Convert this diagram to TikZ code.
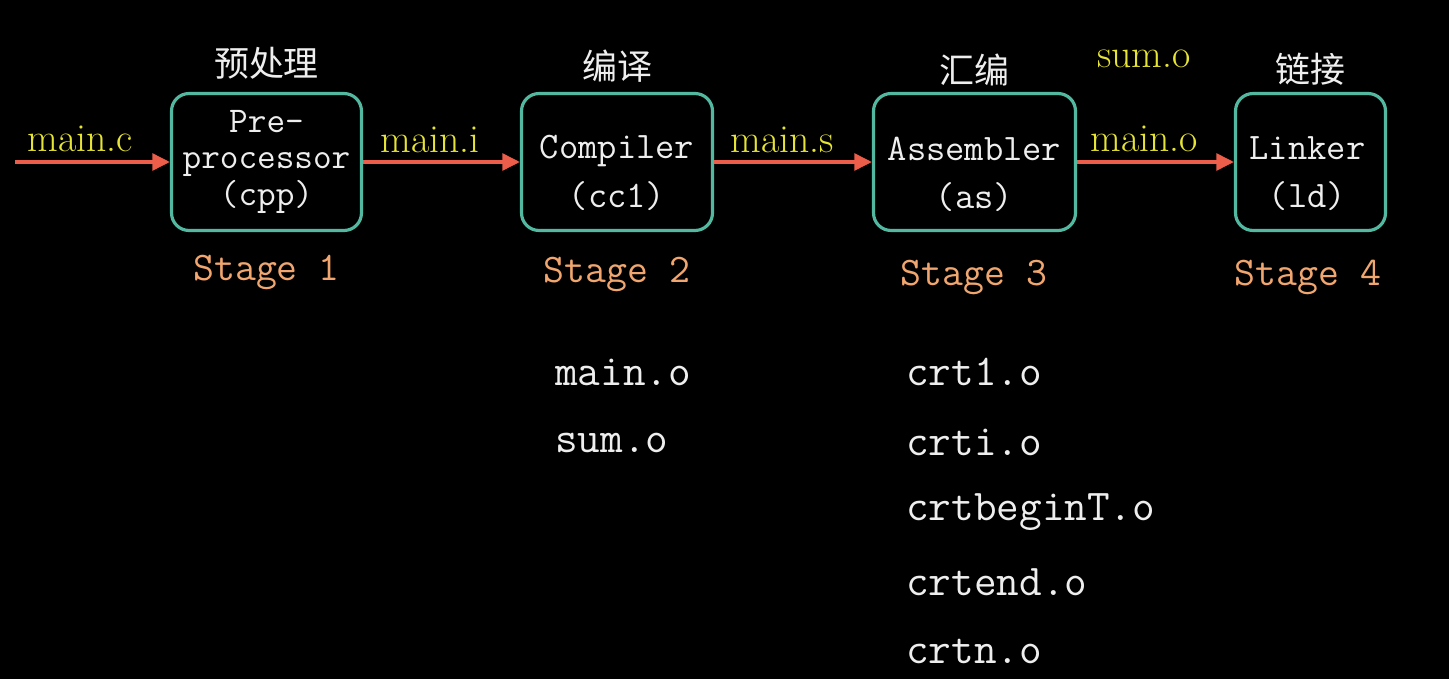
\documentclass[tikz,border=0pt]{standalone}
\usepackage{fontspec}
\newfontfamily\cjk{Noto Sans CJK SC}
\usetikzlibrary{arrows.meta}
\definecolor{boxteal}{RGB}{82,184,160}
\definecolor{flowred}{RGB}{236,94,74}
\definecolor{fileyellow}{RGB}{230,228,52}
\definecolor{stageorange}{RGB}{240,166,110}
\definecolor{textwhite}{RGB}{238,238,238}
\tikzset{
  tool/.style={draw=boxteal, line width=1.8pt, rounded corners=0.35cm, minimum height=2.74cm, inner sep=0pt},
  tooltext/.style={text=textwhite, font=\fontsize{21.3}{21.3}\selectfont\ttfamily, align=center, anchor=base, inner sep=0pt},
  phase/.style={text=textwhite, font=\fontsize{19.9}{22}\selectfont\cjk, inner sep=0pt},
  file/.style={text=fileyellow, font=\fontsize{22.6}{26}\selectfont, anchor=base, inner sep=0pt},
  stagelabel/.style={text=stageorange, font=\fontsize{23.1}{27}\selectfont\ttfamily, anchor=base, inner sep=0pt},
  objfile/.style={text=textwhite, font=\fontsize{25}{29}\selectfont\ttfamily, anchor=base west, inner sep=0pt},
  flow/.style={draw=flowred, line width=2pt, -{Triangle[length=10pt, width=9.5pt]}}
}
\begin{document}
\begin{tikzpicture}[x=0.02cm, y=-0.02cm]
\fill[black] (0,0) rectangle (1449,679);
\useasboundingbox (0,0) rectangle (1449,679);

% the four tools
\node[tool, minimum width=3.8cm] (cpp) at (266.5,162) {};
\node[tool, minimum width=3.82cm] (cc1) at (617,162) {};
\node[tool, minimum width=4.04cm] (as) at (974.5,162) {};
\node[tool, minimum width=3.0cm] (ld) at (1310.5,162) {};

\node[tooltext, font=\fontsize{20.6}{20.6}\selectfont\ttfamily] (cpptext) at (266.5,205) {Pre-\\processor\\(cpp)};
\node[tooltext] (cc1text) at (617,207) {Compiler\\[6.5pt](cc1)};
\node[tooltext] (astext) at (974.5,208) {Assembler\\[5.5pt](as)};
\node[tooltext] (ldtext) at (1307.5,207) {Linker\\[5.5pt](ld)};

% phase names
\node[phase] (p1) at (266.5,63) {预处理};
\node[phase] (p2) at (617,66) {编译};
\node[phase] (p3) at (974,70) {汇编};
\node[phase] (p4) at (1310,69) {链接};

% stages
\node[stagelabel] (s1) at (266.5,280) {Stage 1};
\node[stagelabel] (s2) at (617,282) {Stage 2};
\node[stagelabel] (s3) at (974,285) {Stage 3};
\node[stagelabel] (s4) at (1308,285) {Stage 4};

% flow of files
\coordinate (src) at (15,162);
\draw[flow] (src) -- (cpp);
\draw[flow] (cpp) -- (cc1);
\draw[flow] (cc1) -- (as);
\draw[flow] (as) -- (ld);
\node[file] (fc) at (80,151) {main.c};
\node[file] (fi) at (430,152) {main.i};
\node[file] (fs) at (782,152) {main.s};
\node[file] (fo) at (1144,151) {main.o};
\node[file] (fsum) at (1144,68) {sum.o};

% object files
\node[objfile] (o1) at (555,385) {main.o};
\node[objfile] (o2) at (555,452) {sum.o};
\node[objfile] (c1) at (906,385) {crt1.o};
\node[objfile] (c2) at (906,455) {crti.o};
\node[objfile] (c3) at (906,520) {crtbeginT.o};
\node[objfile] (c4) at (906,595) {crtend.o};
\node[objfile] (c5) at (906,663) {crtn.o};
\end{tikzpicture}
\end{document}
